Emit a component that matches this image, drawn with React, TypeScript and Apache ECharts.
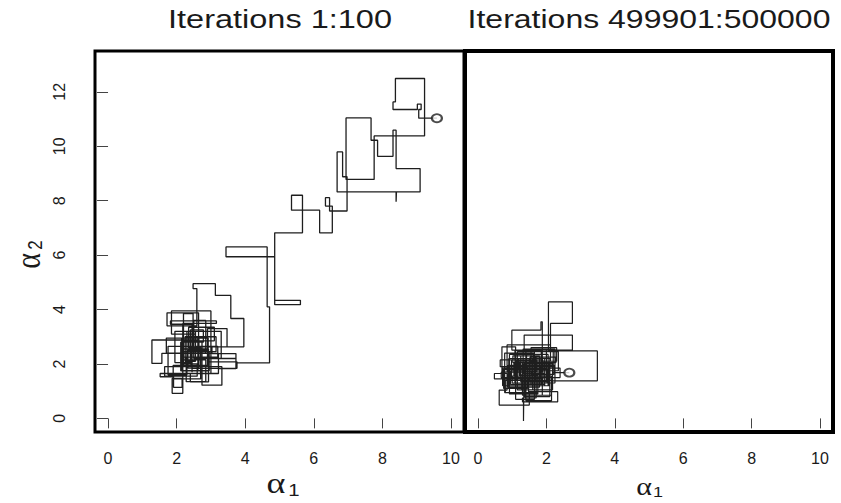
import React, { useEffect, useRef } from "react";
import * as echarts from "echarts";

const panelTitles = ["Iterations 1:100", "Iterations 499901:500000"];
const xTickValues = [0, 2, 4, 6, 8, 10];
const yTickValues = [0, 2, 4, 6, 8, 10, 12];

// Gibbs sampler draws, iterations 1:100
const alpha1Early = [
  9.59, 9.06, 9.13, 9.02, 8.31, 8.38, 9.23, 7.76, 6.94, 7.67,
  7.86, 8.31, 8.4, 9.1, 8.4, 8.41, 6.68, 6.84, 6.97, 6.46,
  6.34, 6.54, 6.17, 5.35, 5.67, 4.86, 5.61, 4.86, 3.44, 4.64,
  4.71, 3.73, 3.22, 3.73, 3.03, 3.96, 3.58, 3.13, 2.48, 2.59,
  1.72, 2.64, 1.28, 1.57, 3.22, 1.52, 1.91, 2.16, 1.87, 2.18,
  3.16, 1.82, 2.45, 3.76, 2.9, 3.47, 2.45, 2.74, 3.32, 2.2,
  2.93, 2.4, 3.0, 1.85, 2.55, 2.25, 3.15, 2.15, 2.62, 1.7,
  2.85, 2.5, 3.3, 2.3, 1.75, 2.48, 2.2, 2.9, 1.9, 2.7,
  2.35, 3.1, 2.18, 2.6, 1.65, 2.42, 2.95, 2.12, 2.78, 2.4,
  1.95, 2.55, 3.2, 2.28, 2.85, 2.15, 2.65, 2.33, 2.92, 2.45,
];
const alpha2Early = [
  11.03, 11.35, 11.55, 11.35, 11.63, 12.49, 10.38, 8.78, 11.04, 10.22,
  9.63, 10.59, 9.18, 8.32, 7.96, 8.32, 9.79, 8.88, 7.62, 8.11,
  7.8, 6.82, 7.65, 8.2, 6.82, 4.34, 4.18, 5.94, 6.3, 4.1,
  2.04, 2.2, 1.83, 2.38, 2.63, 3.67, 4.52, 4.95, 4.77, 3.4,
  3.88, 2.88, 2.02, 2.39, 1.65, 1.53, 1.14, 1.47, 0.92, 3.49,
  3.58, 3.46, 1.84, 2.08, 3.3, 2.63, 2.8, 1.22, 1.9, 2.55,
  1.34, 1.65, 3.95, 3.1, 2.1, 3.0, 2.45, 1.75, 2.95, 2.4,
  3.6, 2.2, 3.2, 1.6, 2.65, 3.85, 2.25, 1.95, 1.45, 2.6,
  3.35, 2.85, 2.0, 1.55, 1.9, 2.45, 1.75, 2.8, 3.25, 2.05,
  3.2, 2.65, 2.25, 1.35, 2.15, 2.95, 1.85, 2.5, 2.95, 1.7,
];

// Gibbs sampler draws, iterations 499901:500000
const alpha1Late = [
  2.67, 2.18, 3.49, 2.06, 2.76, 2.12, 1.35, 2.76, 0.99, 1.84,
  1.88, 0.7, 1.1, 0.48, 0.85, 0.62, 1.5, 2.33, 1.3, 1.33,
  1.35, 2.05, 0.9, 1.6, 1.15, 2.2, 1.45, 0.75, 1.7, 1.25,
  2.0, 1.4, 0.95, 1.85, 1.3, 2.15, 1.05, 1.55, 2.3, 1.2,
  1.75, 0.8, 1.5, 2.1, 1.35, 0.65, 1.9, 1.1, 1.65, 2.35,
  1.25, 1.8, 0.88, 1.45, 2.05, 1.15, 1.6, 0.72, 1.95, 1.32,
  2.25, 1.0, 1.7, 1.38, 2.12, 0.85, 1.55, 1.95, 1.18, 2.4,
  1.48, 0.78, 1.62, 2.18, 1.28, 1.85, 1.08, 2.02, 1.42, 0.92,
  1.75, 1.22, 2.28, 1.52, 0.68, 1.88, 1.35, 2.08, 1.02, 1.68,
  1.3, 2.22, 1.58, 0.98, 1.82, 1.4, 2.15, 1.12, 1.72, 1.36,
];
const alpha2Late = [
  1.68, 1.38, 2.48, 4.28, 3.49, 2.51, 3.06, 2.51, 3.24, 3.55,
  1.7, 2.63, 1.45, 1.65, 1.04, 0.49, 0.98, 0.61, 0.75, -0.1,
  2.0, 1.2, 2.2, 1.55, 2.45, 1.9, 1.1, 1.8, 2.3, 1.35,
  2.55, 1.75, 1.25, 2.05, 0.85, 1.55, 2.05, 2.6, 2.1, 1.6,
  0.95, 1.4, 2.2, 0.8, 1.9, 2.15, 1.45, 0.7, 2.45, 1.75,
  2.3, 1.15, 1.95, 1.4, 2.35, 1.05, 1.85, 1.2, 1.65, 2.55,
  1.3, 1.55, 0.75, 2.1, 2.7, 1.7, 1.25, 2.2, 1.85, 1.5,
  0.95, 2.4, 2.0, 1.05, 1.5, 2.5, 1.3, 1.8, 2.35, 0.9,
  1.6, 2.05, 2.25, 1.7, 1.5, 0.85, 1.2, 2.05, 2.3, 1.35,
  1.95, 1.62, 2.15, 1.45, 1.9, 0.65, 1.4, 2.12, 1.72, 1.55,
];

function staircase(xs: number[], ys: number[]) {
  const pts: number[][] = [[xs[0], ys[0]]];
  for (let i = 1; i < xs.length; i++) {
    pts.push([xs[i], ys[i - 1]]);
    pts.push([xs[i], ys[i]]);
  }
  return pts;
}

const SANS = '"Liberation Sans", Arial, Helvetica, sans-serif';
const SERIF = '"Liberation Serif", "DejaVu Serif", serif';
const LINE = "#1e1e1e";
const TEXT = "#1a1a1a";

function xAxisFor(gridIndex: number) {
  return {
    type: "value" as const,
    gridIndex,
    min: -0.38,
    max: 10.38,
    axisLine: { show: false },
    splitLine: { show: false },
    axisTick: {
      show: true,
      length: 10,
      customValues: xTickValues,
      lineStyle: { color: "#444", width: 1 },
    },
    axisLabel: {
      customValues: xTickValues,
      margin: 18,
      fontSize: 16,
      fontFamily: SANS,
      color: TEXT,
    },
  };
}

export default function App() {
  const ref = useRef<HTMLDivElement>(null);
  useEffect(() => {
    if (!ref.current) return;
    const chart = echarts.init(ref.current, undefined, { renderer: "svg" });
    const option: any = {
      animation: false,
      backgroundColor: "#ffffff",
      grid: [
        { left: 95, top: 51, width: 369, height: 381, show: true, borderColor: "#000", borderWidth: 3, backgroundColor: "transparent" },
        { left: 465, top: 51, width: 368, height: 381, show: true, borderColor: "#000", borderWidth: 4, backgroundColor: "transparent" },
      ],
      xAxis: [xAxisFor(0), xAxisFor(1)],
      yAxis: [
        {
          type: "value",
          gridIndex: 0,
          min: -0.5,
          max: 13.5,
          axisLine: { show: false },
          splitLine: { show: false },
          axisTick: { show: true, length: 11, customValues: yTickValues, lineStyle: { color: "#444", width: 1 } },
          axisLabel: { customValues: yTickValues, rotate: 90, margin: 28, fontSize: 16, fontFamily: SANS, color: TEXT },
        },
        {
          type: "value",
          gridIndex: 1,
          min: -0.5,
          max: 13.5,
          show: false,
          splitLine: { show: false },
        },
      ],
      series: [
        {
          type: "line",
          xAxisIndex: 0,
          yAxisIndex: 0,
          data: staircase(alpha1Early, alpha2Early),
          showSymbol: false,
          symbol: "none",
          lineStyle: { color: LINE, width: 1.3 },
          silent: true,
        },
        {
          type: "line",
          xAxisIndex: 1,
          yAxisIndex: 1,
          data: staircase(alpha1Late, alpha2Late),
          showSymbol: false,
          symbol: "none",
          lineStyle: { color: LINE, width: 1.2 },
          silent: true,
        },
        {
          type: "scatter",
          xAxisIndex: 0,
          yAxisIndex: 0,
          data: [[alpha1Early[0], alpha2Early[0]]],
          symbol: "emptyCircle",
          symbolSize: [10, 8],
          itemStyle: { color: LINE, borderWidth: 1.3 },
          z: 5,
        },
        {
          type: "scatter",
          xAxisIndex: 1,
          yAxisIndex: 1,
          data: [[alpha1Late[0], alpha2Late[0]]],
          symbol: "emptyCircle",
          symbolSize: [10, 8],
          itemStyle: { color: LINE, borderWidth: 1.3 },
          z: 5,
        },
      ],
      graphic: [
        {
          type: "text",
          x: 280,
          y: 19,
          scaleX: 1.3,
          style: { text: panelTitles[0], fontSize: 25, fontFamily: SANS, fill: TEXT, align: "center", verticalAlign: "middle" },
        },
        {
          type: "text",
          x: 649,
          y: 19,
          scaleX: 1.28,
          style: { text: panelTitles[1], fontSize: 25, fontFamily: SANS, fill: TEXT, align: "center", verticalAlign: "middle" },
        },
        {
          type: "text",
          x: 276,
          y: 483,
          scaleX: 1.2,
          style: { text: "α", fontSize: 30, fontFamily: SERIF, fill: TEXT, align: "center", verticalAlign: "middle" },
        },
        {
          type: "text",
          x: 294,
          y: 490,
          scaleX: 1.2,
          style: { text: "1", fontSize: 17, fontFamily: SANS, fill: TEXT, align: "center", verticalAlign: "middle" },
        },
        {
          type: "text",
          x: 644,
          y: 486,
          scaleX: 1.2,
          style: { text: "α", fontSize: 25, fontFamily: SERIF, fill: TEXT, align: "center", verticalAlign: "middle" },
        },
        {
          type: "text",
          x: 658,
          y: 492,
          scaleX: 1.2,
          style: { text: "1", fontSize: 15, fontFamily: SANS, fill: TEXT, align: "center", verticalAlign: "middle" },
        },
        {
          type: "group",
          x: 28,
          y: 256,
          rotation: Math.PI / 2,
          children: [
            {
              type: "text",
              x: -5,
              y: 0,
              scaleY: 1.2,
              style: { text: "α", fontSize: 30, fontFamily: SERIF, fill: TEXT, align: "center", verticalAlign: "middle" },
            },
            {
              type: "text",
              x: 11,
              y: 7,
              scaleY: 1.2,
              style: { text: "2", fontSize: 17, fontFamily: SANS, fill: TEXT, align: "center", verticalAlign: "middle" },
            },
          ],
        },
      ],
    };
    chart.setOption(option);
    return () => chart.dispose();
  }, []);
  return (
    <div
      ref={ref}
      style={{ position: "absolute", left: 0, top: 0, width: 841, height: 503, background: "#fff" }}
    />
  );
}
